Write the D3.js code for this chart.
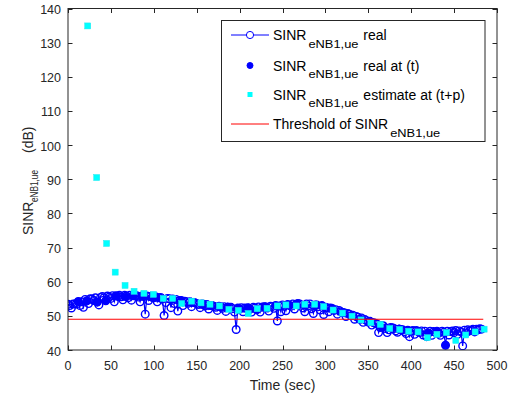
<!DOCTYPE html>
<html><head><meta charset="utf-8">
<script src="https://cdn.jsdelivr.net/npm/d3@7"></script>
<style>body{margin:0;background:#fff}text{font-family:Arial,"Liberation Sans",Helvetica,sans-serif}</style>
</head><body><svg id="c" width="511" height="398"></svg>
<script>
// ---- data ----
const realStart = 0, realStep = 2;
const realValues = [
53.4,53.0,52.3,53.5,53.5, 53.5,54.2,53.0,54.1,52.5, 54.8,54.4,53.6,55.0,54.9, 54.5,55.3,54.0,53.2,55.4,
55.7,55.3,54.4,55.8,55.5, 55.1,55.9,54.1,55.9,55.7, 56.0,55.6,54.7,56.0,55.8, 55.3,56.0,54.6,55.9,56.0,
55.9,55.5,54.1,55.8,55.7, 50.5,55.8,54.5,55.7,55.5, 55.3,55.6,54.1,55.3,55.4, 54.9,50.1,53.9,55.1,55.0,
52.4,54.9,53.6,54.8,51.4, 54.5,54.5,53.0,54.3,54.1, 53.7,54.1,52.7,53.9,53.8, 53.6,53.3,52.4,53.5,53.4,
52.9,53.3,52.0,53.0,53.0, 52.8,52.5,51.6,52.8,52.7, 52.2,52.7,51.3,52.5,52.5, 52.5,52.1,51.1,46.0,52.3,
52.0,52.4,51.2,52.3,52.2, 52.4,51.9,51.1,52.5,52.3, 51.8,52.6,51.1,52.5,52.7, 52.7,52.3,51.4,52.8,52.7,
52.2,53.0,48.5,52.9,51.2, 53.2,52.8,51.5,53.3,53.1, 52.8,53.5,52.0,53.4,53.6, 53.5,53.1,52.3,51.2,53.5,
52.9,53.5,52.1,50.7,53.2, 53.2,52.7,51.7,53.0,50.4, 52.5,52.4,51.2,52.3,52.0, 51.6,51.8,50.5,51.6,51.2,
51.0,50.9,49.8,50.7,50.5, 50.0,50.2,49.0,49.8,49.6, 49.0,49.4,48.1,48.9,48.6, 48.2,48.4,47.3,48.0,47.8,
47.6,45.1,46.6,47.2,47.0, 46.3,45.1,45.9,46.6,46.5, 46.3,45.6,45.2,46.1,46.0, 45.9,45.4,44.8,45.8,43.9,
45.5,45.7,44.6,45.7,45.4, 45.1,45.6,44.4,45.5,43.9, 45.0,45.5,44.3,45.4,45.2, 45.5,44.9,44.3,45.5,45.2,
41.4,45.5,44.4,45.4,45.6, 45.1,45.7,44.6,45.6,45.3, 41.2,45.8,45.0,45.9,45.6, 45.8,46.1,45.3,46.1,45.9,
46.2,46.1];
const realTimes = realValues.map((v, i) => realStart + i * realStep);

const estTimes = [23,33.5,45,55,66.5,77,88.5,99.5,111,122,132.5,144,155,165.5,176.5,187.5,198.5,210,220.5,232,
244,254,266,276,287.5,298,309,320,331,341.5,353,364,375,386.5,397,408,419,430,441,452,463.5,474.5,485];
const estValues = [134.9,90.5,71.2,62.8,58.9,57.2,56.6,56.3,55.1,55.1,53.6,54.3,53.8,53.4,52.9,51.9,51.6,50.7,52.1,52.2,
52.9,53.2,52.9,53.4,53.4,52.7,51.7,50.8,49.9,48.8,48.0,47.5,46.3,46.0,45.5,45.3,43.6,44.6,45.1,42.8,44.4,45.3,46.1];

const realAtTTimes = [12,22,34,44,56,66,76,86,98,108,122,132,144,156,166,176,186,198,210,220,230,242,256,266,276,288,296,308,320,330,342,354,366,376,386,396,408,420,430,440];
const realAtTValues = [54.2,54.4,54.0,54.4,55.9,55.6,56.0,55.7,55.3,55.1,54.9,54.5,54.1,53.3,53.0,52.8,52.7,52.1,52.4,51.8,52.7,53.0,53.3,53.5,53.1,52.9,53.0,52.3,51.0,50.0,49.0,48.2,46.6,46.3,46.3,45.8,45.5,45.0,45.5,41.4];

const threshold = 49;
const thresholdTimes = [0, 484];

const xTickValues = [0,50,100,150,200,250,300,350,400,450,500];
const yTickValues = [40,50,60,70,80,90,100,110,120,130,140];
const xLabel = "Time (sec)";
const legendLabels = [
  ["SINR","eNB1,ue"," real"],
  ["SINR","eNB1,ue"," real at (t)"],
  ["SINR","eNB1,ue"," estimate at (t+p)"],
  ["Threshold of SINR","eNB1,ue",""]
];

// ---- layout ----
const L = 68, R = 497, T = 8.5, B = 350;
const axisColor = "#262626";
const svg = d3.select("#c");
const x = d3.scaleLinear().domain([0, 500]).range([L, R]);
const y = d3.scaleLinear().domain([40, 140]).range([B, T]);

svg.append("rect").attr("width",511).attr("height",398).attr("fill","#fff");

svg.append("clipPath").attr("id","clip").append("rect")
  .attr("x",L).attr("y",T).attr("width",R-L).attr("height",B-T);
const plot = svg.append("g").attr("clip-path","url(#clip)");

// real line + circles
const line = d3.line().x(d => x(d[0])).y(d => y(d[1]));
const realPts = realTimes.map((t,i) => [t, realValues[i]]);
plot.append("path").datum(realPts).attr("d", line)
  .attr("fill","none").attr("stroke","#0000ff").attr("stroke-width",1.2);
plot.append("g").selectAll("circle").data(realPts).join("circle")
  .attr("cx", d => x(d[0])).attr("cy", d => y(d[1])).attr("r", 3.8)
  .attr("fill","none").attr("stroke","#0000ff").attr("stroke-width",1.4);

// real at t (filled)
plot.append("g").selectAll("circle").data(realAtTTimes.map((t,i)=>[t,realAtTValues[i]])).join("circle")
  .attr("cx", d => x(d[0])).attr("cy", d => y(d[1])).attr("r", 3.6)
  .attr("fill","#0000ff").attr("stroke","#0000ff").attr("stroke-width",1);

// estimates
plot.append("g").selectAll("rect").data(estTimes.map((t,i)=>[t,estValues[i]])).join("rect")
  .attr("x", d => x(d[0]) - 3).attr("y", d => y(d[1]) - 3).attr("width",6).attr("height",6)
  .attr("fill","#00ffff").attr("stroke","#22e8f0").attr("stroke-width",0.5);

// threshold
plot.append("line").attr("x1", x(thresholdTimes[0])).attr("x2", x(thresholdTimes[1]))
  .attr("y1", y(threshold)).attr("y2", y(threshold)).attr("stroke","#ff0000").attr("stroke-width",1.2);

// ---- axes ----
const ax = svg.append("g");
ax.append("rect").attr("x",L).attr("y",T).attr("width",R-L).attr("height",B-T)
  .attr("fill","none").attr("stroke",axisColor).attr("stroke-width",1);
const tl = 4.5;
xTickValues.forEach(v => {
  const px = Math.round(x(v)) + 0.5;
  ax.append("line").attr("x1",px).attr("x2",px).attr("y1",B).attr("y2",B-tl).attr("stroke",axisColor);
  ax.append("line").attr("x1",px).attr("x2",px).attr("y1",T).attr("y2",T+tl).attr("stroke",axisColor);
  ax.append("text").attr("x", x(v)).attr("y", 370).attr("text-anchor","middle")
    .attr("font-size",12.5).attr("fill",axisColor).text(v);
});
yTickValues.forEach(v => {
  const py = Math.round(y(v)) + 0.5;
  ax.append("line").attr("x1",L).attr("x2",L+tl).attr("y1",py).attr("y2",py).attr("stroke",axisColor);
  ax.append("line").attr("x1",R).attr("x2",R-tl).attr("y1",py).attr("y2",py).attr("stroke",axisColor);
  ax.append("text").attr("x", 61).attr("y", y(v) + 5.5).attr("text-anchor","end")
    .attr("font-size",12.5).attr("fill",axisColor).text(v);
});
ax.append("text").attr("x",(L+R)/2).attr("y",390).attr("text-anchor","middle")
  .attr("font-size",14).attr("fill",axisColor).text(xLabel);

// y label
const yl = svg.append("g").attr("transform","translate(33,235) rotate(-90)");
yl.append("text").attr("x",0).attr("y",0).attr("font-size",14).attr("fill",axisColor).text("SINR");
yl.append("text").attr("x",33).attr("y",4.5).attr("font-size",10).attr("fill",axisColor)
  .attr("textLength",32).attr("lengthAdjust","spacingAndGlyphs").text("eNB1,ue");
yl.append("text").attr("x",82).attr("y",0).attr("font-size",14).attr("fill",axisColor).text("(dB)");

// ---- legend ----
const lg = svg.append("g");
lg.append("rect").attr("x",221.5).attr("y",20.5).attr("width",263.5).attr("height",121)
  .attr("fill","#fff").attr("stroke",axisColor).attr("stroke-width",1);
const rows = [35, 65.5, 94.5, 124];
const mx = 250;
lg.append("line").attr("x1",231).attr("x2",269).attr("y1",rows[0]).attr("y2",rows[0]).attr("stroke","#0000ff");
lg.append("circle").attr("cx",mx).attr("cy",rows[0]).attr("r",3.6).attr("fill","#fff").attr("stroke","#0000ff");
lg.append("circle").attr("cx",mx).attr("cy",rows[1]).attr("r",3).attr("fill","#0000ff").attr("stroke","#0000ff");
lg.append("rect").attr("x",mx-2.5).attr("y",rows[2]-2.5).attr("width",5).attr("height",5).attr("fill","#00ffff");
lg.append("line").attr("x1",231).attr("x2",269).attr("y1",rows[3]).attr("y2",rows[3]).attr("stroke","#ff0000");
legendLabels.forEach((lab, i) => {
  const base = rows[i] + 5;
  const tx = 273;
  const main = lg.append("text").attr("x",tx).attr("y",base).attr("font-size",14).attr("fill","#000").text(lab[0]);
  const w = main.node().getComputedTextLength();
  const sx = tx + w + 2;
  lg.append("text").attr("x",sx).attr("y",base+7.5).attr("font-size",10).attr("fill","#000")
    .attr("textLength",50).attr("lengthAdjust","spacingAndGlyphs").text(lab[1]);
  if (lab[2]) lg.append("text").attr("x",sx+51).attr("y",base).attr("font-size",14).attr("fill","#000")
    .style("white-space","pre").text(lab[2]);
});
</script></body></html>
